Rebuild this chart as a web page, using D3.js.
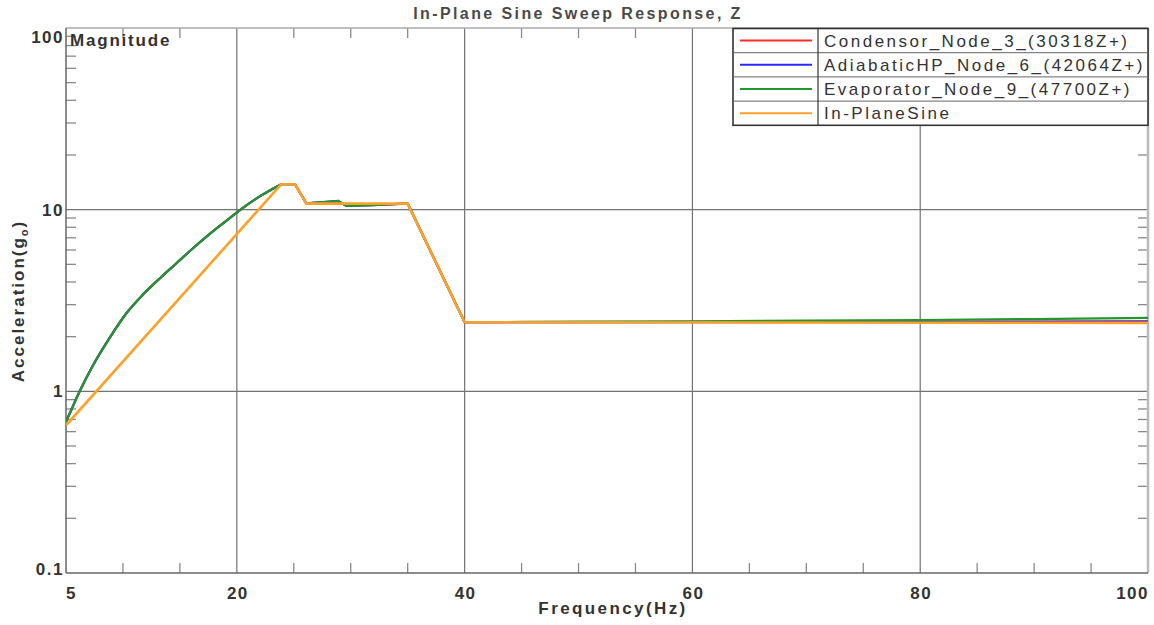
<!DOCTYPE html>
<html>
<head>
<meta charset="utf-8">
<script src="https://cdn.jsdelivr.net/npm/d3@7"></script>
<style>
  body { margin: 0; background: #fff; }
  text { font-family: "Liberation Sans", Arial, sans-serif; fill: #333; }
</style>
</head>
<body>
<svg id="chart" width="1154" height="625"></svg>
<script>
// sweep points for the three measured nodes (Hz)
let sweepFreq = [5, 5.5, 6.2, 7.4, 8.9, 10.3, 11.8, 13.3, 14.7, 16.2, 17.6, 19.1, 20.1, 21.6, 23.9, 25.1, 26.1, 28.9, 29.6, 32, 33.1, 35, 40, 45, 50, 60, 70, 80, 90, 100];
let condensorAcc = [0.68, 0.80, 1.0, 1.4, 2.0, 2.69, 3.43, 4.22, 5.07, 6.17, 7.33, 8.71, 9.77, 11.4, 13.8, 13.8, 10.83, 11.1, 10.55, 10.65, 10.7, 10.8, 2.40, 2.40, 2.40, 2.41, 2.41, 2.42, 2.42, 2.43];
let adiabaticAcc = [0.68, 0.80, 1.0, 1.4, 2.0, 2.69, 3.43, 4.22, 5.07, 6.17, 7.33, 8.71, 9.77, 11.4, 13.8, 13.8, 10.83, 11.15, 10.5, 10.6, 10.7, 10.8, 2.40, 2.40, 2.40, 2.40, 2.41, 2.41, 2.41, 2.42];
let evaporatorAcc = [0.68, 0.80, 1.0, 1.4, 2.0, 2.69, 3.43, 4.22, 5.07, 6.17, 7.33, 8.71, 9.77, 11.4, 13.8, 13.8, 10.83, 11.2, 10.5, 10.6, 10.7, 10.8, 2.40, 2.41, 2.42, 2.43, 2.45, 2.47, 2.50, 2.54];

// input profile
let sineFreq = [5, 23.9, 25.1, 26.1, 35, 40, 100];
let sineAcc = [0.65, 13.8, 13.8, 10.8, 10.8, 2.40, 2.38];

let seriesNames = ["Condensor_Node_3_(30318Z+)", "AdiabaticHP_Node_6_(42064Z+)", "Evaporator_Node_9_(47700Z+)", "In-PlaneSine"];
let seriesColors = ["#ff2a2a", "#2a2aff", "#22982a", "#ffa028"];

let xMajor = [5, 20, 40, 60, 80, 100];
let xMinor = [10, 15, 25, 30, 35, 45, 50, 55, 65, 70, 75, 85, 90, 95];
let yMajor = [100, 10, 1, 0.1];
let yLabels = ["100", "10", "1", "0.1"];

let margin = { top: 28, right: 6, bottom: 52, left: 66 },
  width = 1154,
  height = 625;

let svg = d3.select("#chart");

let x = d3.scaleLinear().domain([5, 100]).range([margin.left, width - margin.right]);
let y = d3.scaleLog().domain([0.1, 100]).range([height - margin.bottom, margin.top]);

let x0 = x.range()[0], x1 = x.range()[1], y0 = y.range()[0], y1 = y.range()[1];

// minor y ticks 2..9 per decade
let yMinor = [];
[0.1, 1, 10].forEach((d) => {
  for (let k = 2; k <= 9; k++) yMinor.push(d * k);
});

// grid lines
svg.append("g")
  .selectAll("line")
  .data([20, 40, 60, 80])
  .enter()
  .append("line")
  .attr("x1", (d) => x(d))
  .attr("x2", (d) => x(d))
  .attr("y1", y0)
  .attr("y2", y1)
  .attr("stroke", "#737373")
  .attr("stroke-width", 1.2);

svg.append("g")
  .selectAll("line")
  .data([10, 1])
  .enter()
  .append("line")
  .attr("x1", x0)
  .attr("x2", x1)
  .attr("y1", (d) => y(d))
  .attr("y2", (d) => y(d))
  .attr("stroke", "#737373")
  .attr("stroke-width", 1.2);

// inner ticks on all four sides
let ticks = svg.append("g").attr("stroke", "#8a8a8a").attr("stroke-width", 1.3);
xMinor.forEach((d) => {
  ticks.append("line").attr("x1", x(d)).attr("x2", x(d)).attr("y1", y0).attr("y2", y0 - 10);
  ticks.append("line").attr("x1", x(d)).attr("x2", x(d)).attr("y1", y1).attr("y2", y1 + 10);
});
yMinor.forEach((d) => {
  ticks.append("line").attr("x1", x0).attr("x2", x0 + 10).attr("y1", y(d)).attr("y2", y(d));
  ticks.append("line").attr("x1", x1).attr("x2", x1 - 10).attr("y1", y(d)).attr("y2", y(d));
});

// frame
svg.append("line").attr("x1", x0).attr("x2", x1).attr("y1", y1).attr("y2", y1).attr("stroke", "#aaa").attr("stroke-width", 1.5);
svg.append("line").attr("x1", x1).attr("x2", x1).attr("y1", y1).attr("y2", y0).attr("stroke", "#bbb").attr("stroke-width", 2.5);
svg.append("line").attr("x1", x0).attr("x2", x1).attr("y1", y0).attr("y2", y0).attr("stroke", "#666").attr("stroke-width", 1.5);
svg.append("line").attr("x1", x0).attr("x2", x0).attr("y1", y1).attr("y2", y0).attr("stroke", "#666").attr("stroke-width", 1.5);

// curves
svg.append("clipPath").attr("id", "plot-clip")
  .append("rect").attr("x", x0).attr("y", y1).attr("width", x1 - x0).attr("height", y0 - y1);

let smoothLine = d3.line()
  .x((d) => x(d[0]))
  .y((d) => y(d[1]))
  .curve(d3.curveMonotoneX);

let straightLine = d3.line()
  .x((d) => x(d[0]))
  .y((d) => y(d[1]));

// the rising part of the measured response is smooth, the rest follows the profile corners
let peakFreq = 23.9;
let measuredPath = function (pts) {
  let rise = pts.filter((p) => p[0] <= peakFreq);
  let rest = pts.filter((p) => p[0] >= peakFreq);
  return smoothLine(rise) + straightLine(rest);
};

let series = [
  d3.zip(sweepFreq, condensorAcc),
  d3.zip(sweepFreq, adiabaticAcc),
  d3.zip(sweepFreq, evaporatorAcc),
  d3.zip(sineFreq, sineAcc)
];

svg.append("g")
  .attr("clip-path", "url(#plot-clip)")
  .selectAll("path")
  .data(series)
  .enter()
  .append("path")
  .attr("d", (d, i) => (i === 3 ? straightLine(d) : measuredPath(d)))
  .attr("fill", "none")
  .attr("stroke", (d, i) => seriesColors[i])
  .attr("stroke-width", (d, i) => (i === 3 ? 2.6 : 2.2))
  .attr("stroke-linejoin", "round");

// tick labels
svg.append("g")
  .selectAll("text")
  .data(xMajor)
  .enter()
  .append("text")
  .attr("x", (d, i) => (i === 0 ? x(d) : x(d) + 1))
  .attr("y", 599)
  .attr("text-anchor", (d, i) => (i === 0 ? "start" : i === xMajor.length - 1 ? "end" : "middle"))
  .style("font-size", "17px")
  .style("font-weight", "bold")
  .style("letter-spacing", "1.5px")
  .text((d) => d);

svg.append("g")
  .selectAll("text")
  .data(yMajor)
  .enter()
  .append("text")
  .attr("x", x0 - 2)
  .attr("y", (d, i) => (i === 0 ? y(d) + 15 : i === yMajor.length - 1 ? y(d) + 2 : y(d) + 6))
  .attr("text-anchor", "end")
  .style("font-size", "17px")
  .style("font-weight", "bold")
  .style("letter-spacing", "1.5px")
  .text((d, i) => yLabels[i]);

// titles
svg.append("text")
  .attr("x", 578)
  .attr("y", 19)
  .attr("text-anchor", "middle")
  .style("font-size", "16px")
  .style("font-weight", "bold")
  .style("letter-spacing", "2.4px")
  .style("fill", "#4a4a4a")
  .text("In-Plane Sine Sweep Response, Z");

svg.append("text")
  .attr("x", 613)
  .attr("y", 614)
  .attr("text-anchor", "middle")
  .style("font-size", "17px")
  .style("font-weight", "bold")
  .style("letter-spacing", "2.4px")
  .text("Frequency(Hz)");

let ylab = svg.append("text")
  .attr("transform", "translate(24,301) rotate(-90)")
  .attr("text-anchor", "middle")
  .style("font-size", "17px")
  .style("font-weight", "bold")
  .style("letter-spacing", "2px");
ylab.append("tspan").text("Acceleration(g");
ylab.append("tspan").attr("dy", 4).style("font-size", "11px").text("o");
ylab.append("tspan").attr("dy", -4).text(")");

svg.append("text")
  .attr("x", x0 + 4)
  .attr("y", 46)
  .style("font-size", "17px")
  .style("font-weight", "bold")
  .style("letter-spacing", "1.8px")
  .text("Magnitude");

// legend
let lg = { x: 733, y: 28.5, w: 415, rowH: 24.2, split: 85 };
let legend = svg.append("g");
legend.append("rect")
  .attr("x", lg.x)
  .attr("y", lg.y)
  .attr("width", lg.w)
  .attr("height", lg.rowH * seriesNames.length)
  .attr("fill", "#fff")
  .attr("stroke", "#333")
  .attr("stroke-width", 1.6);
legend.selectAll("line.sep")
  .data(d3.range(1, seriesNames.length))
  .enter()
  .append("line")
  .attr("x1", lg.x)
  .attr("x2", lg.x + lg.w)
  .attr("y1", (d) => lg.y + d * lg.rowH)
  .attr("y2", (d) => lg.y + d * lg.rowH)
  .attr("stroke", "#666")
  .attr("stroke-width", 1);
legend.append("line")
  .attr("x1", lg.x + lg.split)
  .attr("x2", lg.x + lg.split)
  .attr("y1", lg.y)
  .attr("y2", lg.y + lg.rowH * seriesNames.length)
  .attr("stroke", "#333")
  .attr("stroke-width", 1.2);

let rows = legend.selectAll("g.row")
  .data(seriesNames)
  .enter()
  .append("g")
  .attr("transform", (d, i) => `translate(0,${lg.y + i * lg.rowH + lg.rowH / 2})`);
rows.append("line")
  .attr("x1", lg.x + 7)
  .attr("x2", lg.x + 79)
  .attr("stroke", (d, i) => seriesColors[i])
  .attr("stroke-width", 2);
rows.append("text")
  .attr("x", lg.x + lg.split + 6)
  .attr("y", 6)
  .style("font-size", "17px")
  .style("letter-spacing", "2.5px")
  .text((d) => d);
</script>
</body>
</html>
